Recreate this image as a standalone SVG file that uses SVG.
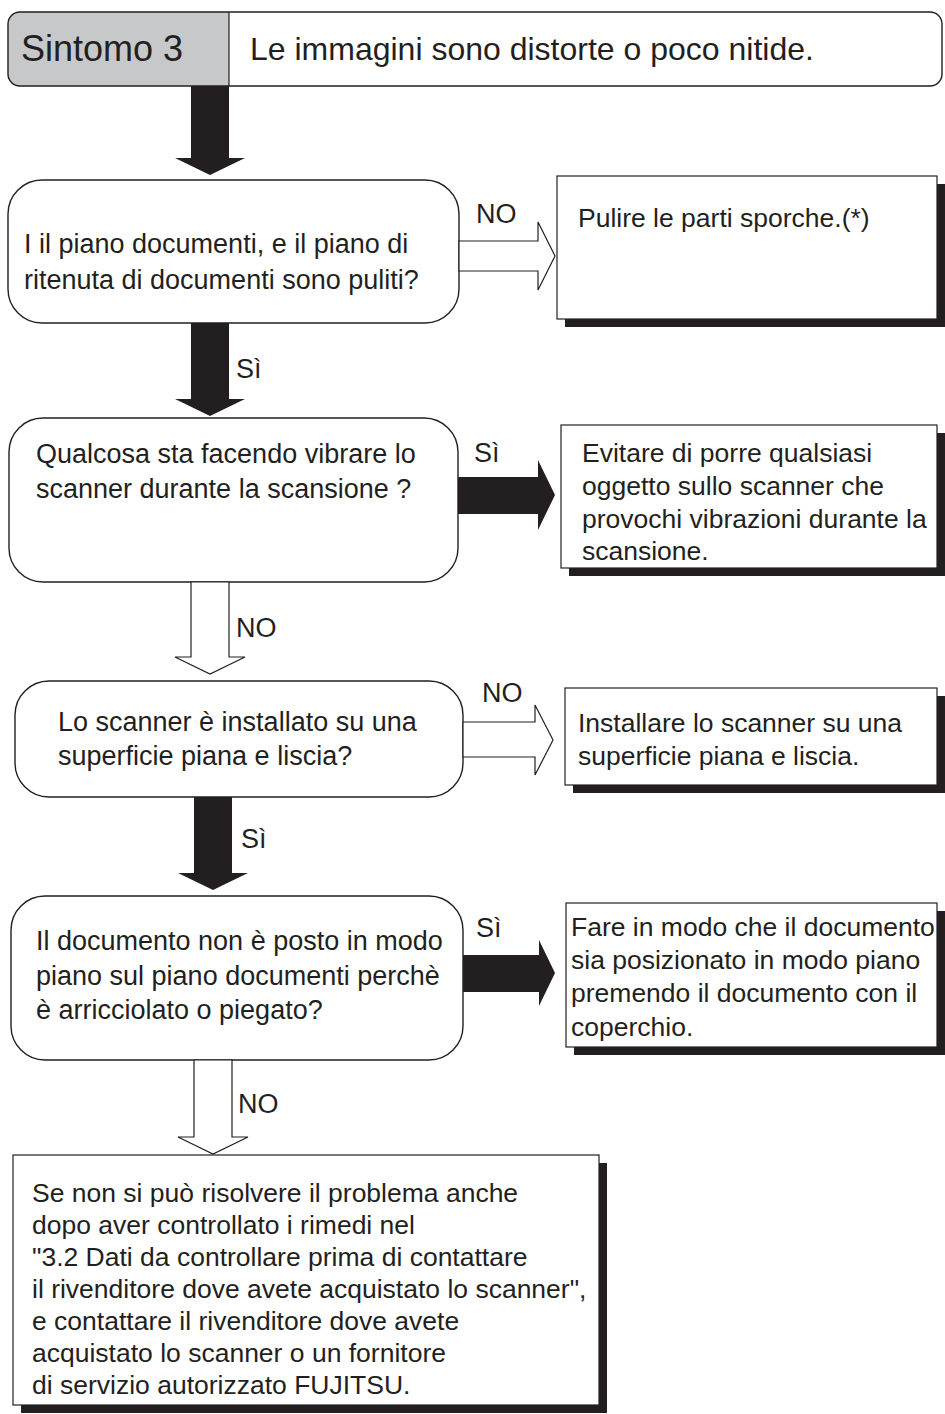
<svg xmlns="http://www.w3.org/2000/svg" width="945" height="1414" viewBox="0 0 945 1414">
<style>
text{font-family:"Liberation Sans",Arial,sans-serif;fill:#231f20}
.t{font-size:27px}
.s{font-size:26.5px}
.node{fill:#fff;stroke:#231f20;stroke-width:1.4}
.box{fill:#fff;stroke:#231f20;stroke-width:1.2}
.sh{fill:#231f20}
.solid{fill:#231f20;stroke:none}
.hollow{fill:#fff;stroke:#231f20;stroke-width:1.2;stroke-linejoin:miter}
</style>
<rect width="945" height="1414" fill="#fff"/>
<g id="header">
<path d="M20,12 H229 V86 H20 Q8,86 8,74 V24 Q8,12 20,12 Z" fill="#c7c8ca"/>
<rect x="8" y="12" width="934" height="74" rx="12" fill="none" stroke="#231f20" stroke-width="1.4"/>
<line x1="229" y1="12" x2="229" y2="86" stroke="#231f20" stroke-width="1.2"/>
<text x="21" y="61" font-size="36">Sintomo 3</text>
<text x="250" y="60" font-size="32">Le immagini sono distorte o poco nitide.</text>
</g>
<g id="q1">
<rect class="node" x="8" y="180" width="451" height="143" rx="34"/>
<text class="t"><tspan x="24" y="253">I  il piano documenti, e il piano di</tspan><tspan x="24" y="289">ritenuta di documenti sono puliti?</tspan></text>
</g>
<g id="a1">
<rect class="sh" x="565" y="184" width="380" height="143"/>
<rect class="box" x="557" y="176" width="380" height="143"/>
<text class="s" x="578" y="227">Pulire le parti sporche.(*)</text>
</g>
<g id="q2">
<rect class="node" x="9" y="418" width="449" height="164" rx="34"/>
<text class="t"><tspan x="36" y="463">Qualcosa sta facendo vibrare lo</tspan><tspan x="36" y="498">scanner durante la scansione ?</tspan></text>
</g>
<g id="a2">
<rect class="sh" x="569" y="433" width="376" height="143"/>
<rect class="box" x="561" y="425" width="376" height="143"/>
<text class="s"><tspan x="582" y="462">Evitare di porre qualsiasi</tspan><tspan x="582" y="495">oggetto sullo scanner che</tspan><tspan x="582" y="528">provochi vibrazioni durante la</tspan><tspan x="582" y="560">scansione.</tspan></text>
</g>
<g id="q3">
<rect class="node" x="15" y="681" width="448" height="116" rx="34"/>
<text class="t"><tspan x="58" y="731">Lo scanner è installato su una</tspan><tspan x="58" y="765">superficie piana e liscia?</tspan></text>
</g>
<g id="a3">
<rect class="sh" x="573" y="696" width="372" height="97"/>
<rect class="box" x="565" y="688" width="372" height="97"/>
<text class="s"><tspan x="578" y="732">Installare lo scanner su una</tspan><tspan x="578" y="765">superficie piana e liscia.</tspan></text>
</g>
<g id="q4">
<rect class="node" x="11" y="896" width="452" height="164" rx="34"/>
<text class="t"><tspan x="36" y="950">Il documento non è posto in modo</tspan><tspan x="36" y="985">piano sul piano documenti perchè</tspan><tspan x="36" y="1019">è arricciolato o piegato?</tspan></text>
</g>
<g id="a4">
<rect class="sh" x="574" y="911" width="371" height="144"/>
<rect class="box" x="566" y="903" width="371" height="144"/>
<text class="s"><tspan x="571" y="936">Fare in modo che il documento</tspan><tspan x="571" y="969">sia posizionato in modo piano</tspan><tspan x="571" y="1002">premendo il documento con il</tspan><tspan x="571" y="1036">coperchio.</tspan></text>
</g>
<g id="end">
<rect class="sh" x="21" y="1163" width="586" height="250"/>
<rect class="box" x="13" y="1155" width="586" height="250"/>
<text class="s"><tspan x="32" y="1202">Se non si può risolvere il problema anche</tspan><tspan x="32" y="1234">dopo aver controllato i rimedi nel</tspan><tspan x="32" y="1266">"3.2 Dati da controllare prima di contattare</tspan><tspan x="32" y="1298">il rivenditore dove avete acquistato lo scanner",</tspan><tspan x="32" y="1330">e contattare il rivenditore dove avete</tspan><tspan x="32" y="1362">acquistato lo scanner o un fornitore</tspan><tspan x="32" y="1394">di servizio autorizzato FUJITSU.</tspan></text>
</g>
<g id="connectors">
<polygon class="solid" points="191,86 229,86 229,158 245,158 210,175 175,158 191,158"/>
<polygon class="hollow" points="459,241 538,241 538,222 555,256 538,290 538,271 459,271"/>
<text class="t" x="476" y="223">NO</text>
<polygon class="solid" points="191,323 229,323 229,399 245,399 210,416 175,399 191,399"/>
<text class="t" x="236" y="378">Sì</text>
<polygon class="solid" points="458,477 538,477 538,460 555,495 538,530 538,514 458,514"/>
<text class="t" x="474" y="462">Sì</text>
<polygon class="hollow" points="191,582 229,582 229,657 245,657 210,674 175,657 191,657"/>
<text class="t" x="236" y="637">NO</text>
<polygon class="hollow" points="463,722 535,722 535,705 553,740 535,775 535,757 463,757"/>
<text class="t" x="482" y="702">NO</text>
<polygon class="solid" points="194,797 232,797 232,873 248,873 213,890 178,873 194,873"/>
<text class="t" x="241" y="848">Sì</text>
<polygon class="solid" points="463,955 539,955 539,940 555,973 539,1006 539,992 463,992"/>
<text class="t" x="476" y="937">Sì</text>
<polygon class="hollow" points="194,1060 232,1060 232,1137 248,1137 213,1154 178,1137 194,1137"/>
<text class="t" x="238" y="1113">NO</text>
</g>
</svg>
